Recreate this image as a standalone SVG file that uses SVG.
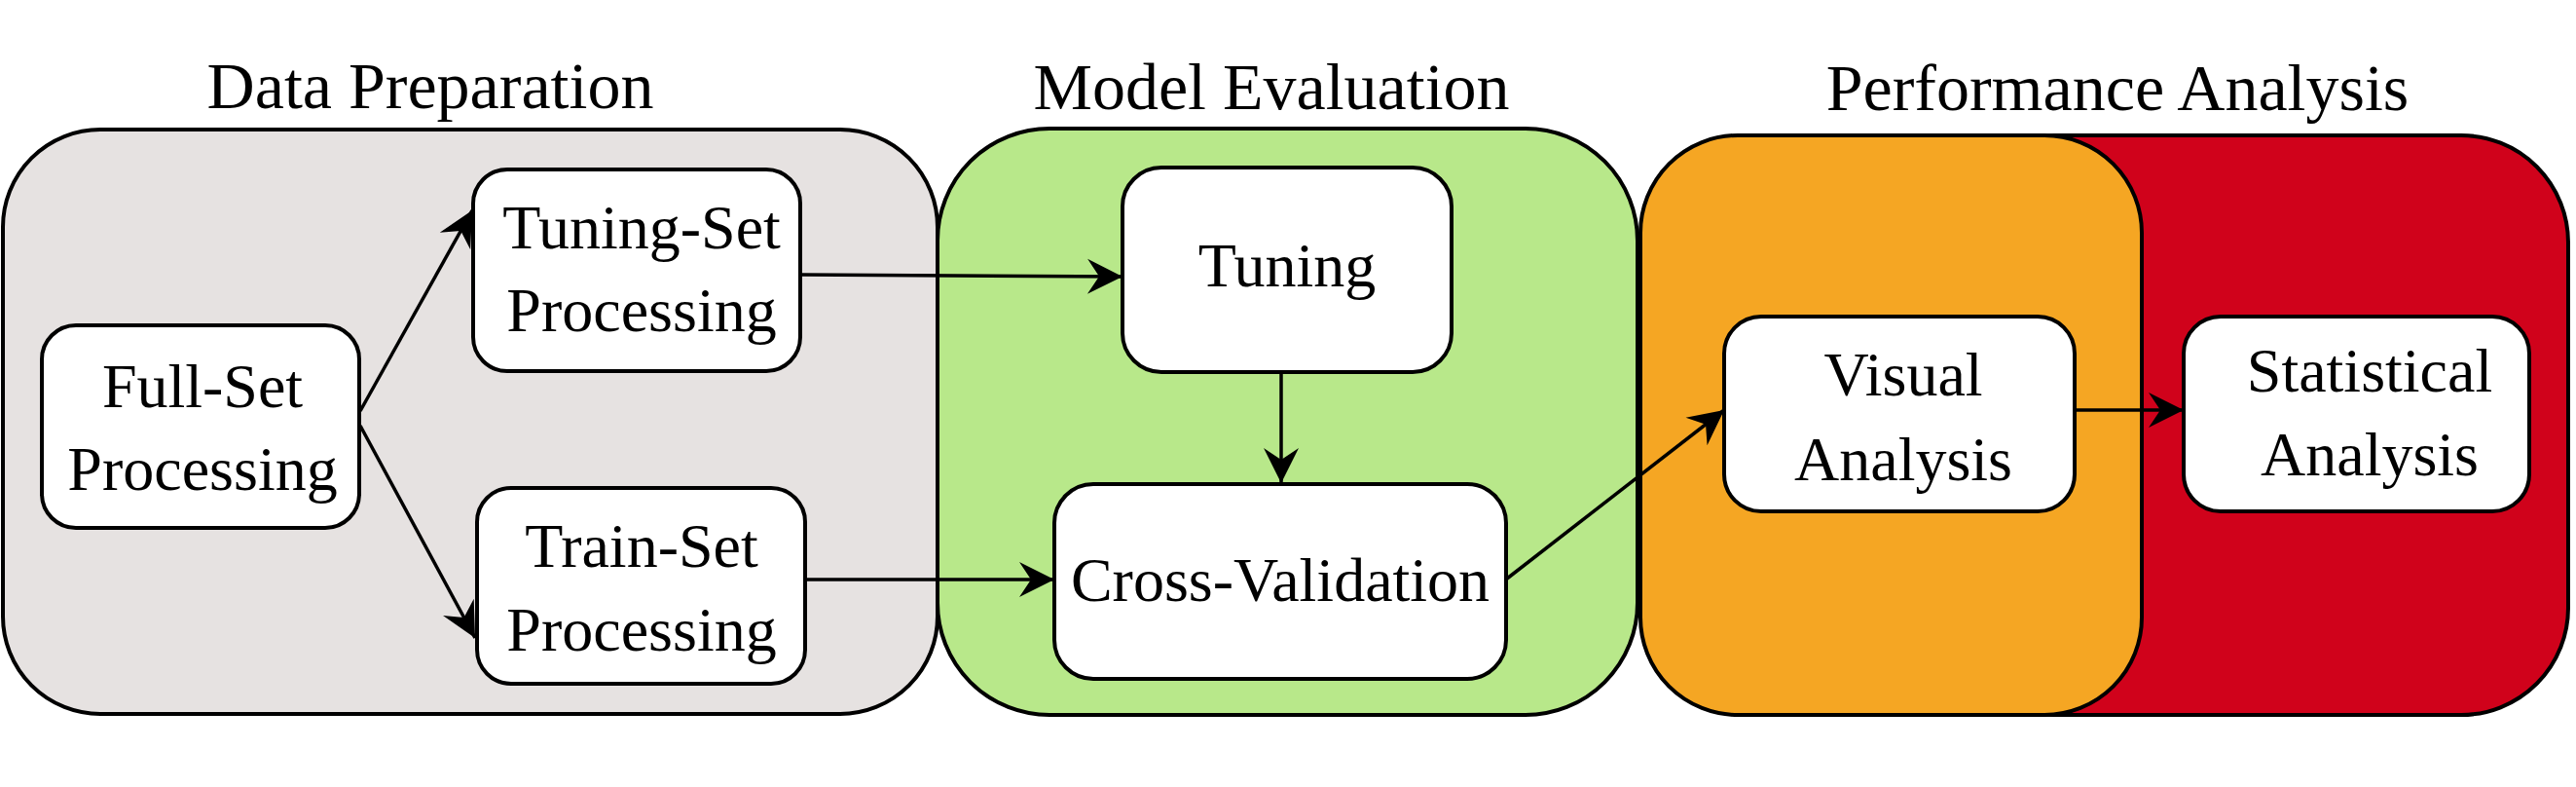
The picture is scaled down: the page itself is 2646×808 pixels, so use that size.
<svg xmlns="http://www.w3.org/2000/svg" width="2646" height="808" viewBox="0 0 2646 808">
<style>
.grp{stroke:#000;stroke-width:4}
.node{fill:#fff;stroke:#000;stroke-width:4}
.t{font-family:"Liberation Serif","Times New Roman",serif;font-size:64px;fill:#000;text-anchor:middle}
.title{font-family:"Liberation Serif","Times New Roman",serif;font-size:68px;fill:#000;text-anchor:middle}
.edge{stroke:#000;stroke-width:3.5;fill:none;marker-end:url(#arr)}
</style>
<defs>
<marker id="arr" markerUnits="userSpaceOnUse" viewBox="-38 -20 40 40" markerWidth="40" markerHeight="40" refX="0" refY="0" orient="auto">
<path d="M0,0 L-36,-18 L-24,0 L-36,18 Z" fill="#000"/>
</marker>
</defs>
<rect width="2646" height="808" fill="#fff"/>
<g id="groups">
<g id="data-preparation">
<rect class="grp" x="3" y="133" width="960" height="600" rx="100" ry="100" fill="#E6E2E1"/>
<text class="title" x="442" y="111">Data Preparation</text>
</g>
<g id="model-evaluation">
<rect class="grp" x="963" y="132" width="719" height="602" rx="115" ry="115" fill="#B8E88A"/>
<text class="title" x="1306" y="112">Model Evaluation</text>
</g>
<g id="performance-analysis">
<rect class="grp" x="2000" y="139" width="638" height="595" rx="110" ry="110" fill="#D0021B"/>
<rect class="grp" x="1685" y="139" width="515" height="595" rx="100" ry="100" fill="#F5A623"/>
<text class="title" x="2175" y="113">Performance Analysis</text>
</g>
</g>
<g id="connectors">
<line class="edge" x1="370" y1="422" x2="485" y2="216"/>
<line class="edge" x1="370" y1="437" x2="488" y2="655"/>
<line class="edge" x1="822" y1="282" x2="1153" y2="284"/>
<line class="edge" x1="827" y1="595" x2="1083" y2="595"/>
<line class="edge" x1="1316" y1="382" x2="1316" y2="496"/>
<line class="edge" x1="1548" y1="594" x2="1771" y2="421"/>
<line class="edge" x1="2131" y1="421" x2="2243" y2="421"/>
</g>
<g id="full-set">
<rect class="node" x="43" y="334" width="326" height="208" rx="35" ry="35"/>
<text class="t" x="208" y="418">Full-Set</text>
<text class="t" x="208" y="503">Processing</text>
</g>
<g id="tuning-set">
<rect class="node" x="486" y="174" width="336" height="207" rx="35" ry="35"/>
<text class="t" x="659" y="255">Tuning-Set</text>
<text class="t" x="659" y="340">Processing</text>
</g>
<g id="train-set">
<rect class="node" x="490" y="501" width="337" height="201" rx="35" ry="35"/>
<text class="t" x="659" y="582">Train-Set</text>
<text class="t" x="659" y="668">Processing</text>
</g>
<g id="tuning">
<rect class="node" x="1153" y="172" width="338" height="210" rx="40" ry="40"/>
<text class="t" x="1322" y="294">Tuning</text>
</g>
<g id="cross-validation">
<rect class="node" x="1083" y="497" width="464" height="200" rx="40" ry="40"/>
<text class="t" x="1315" y="617">Cross-Validation</text>
</g>
<g id="visual-analysis">
<rect class="node" x="1771" y="325" width="360" height="200" rx="38" ry="38"/>
<text class="t" x="1955" y="406">Visual</text>
<text class="t" x="1955" y="493">Analysis</text>
</g>
<g id="statistical-analysis">
<rect class="node" x="2243" y="325" width="355" height="200" rx="38" ry="38"/>
<text class="t" x="2434" y="402">Statistical</text>
<text class="t" x="2434" y="488">Analysis</text>
</g>
</svg>
